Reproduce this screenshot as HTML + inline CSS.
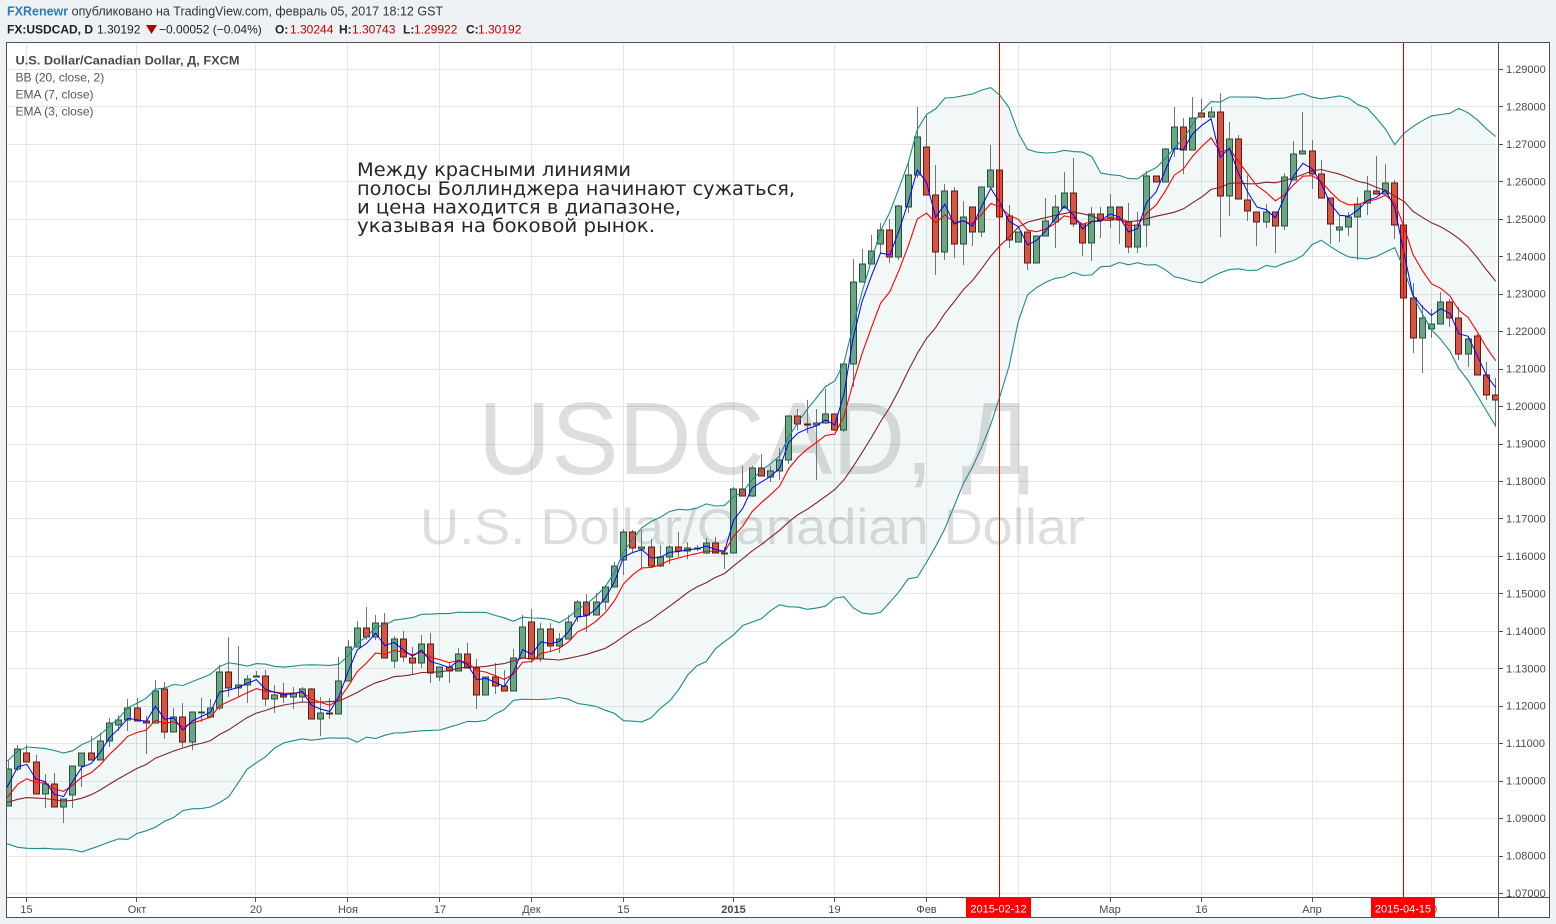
<!DOCTYPE html>
<html><head><meta charset="utf-8">
<style>
html,body{margin:0;padding:0;background:#eff2f5;width:1556px;height:924px;overflow:hidden;}
svg{display:block;}
text{font-family:"Liberation Sans",Arial,sans-serif;}
</style></head>
<body>
<svg id="s" width="1556" height="924" xmlns="http://www.w3.org/2000/svg">
<defs><clipPath id="cp"><rect x="7" y="43" width="1491" height="854"/></clipPath></defs>
<rect width="1556" height="924" fill="#eff2f5"/>
<!-- header -->
<text x="7" y="15.5" font-size="12.5"><tspan fill="#2b7bb9" font-weight="bold">FXRenewr</tspan><tspan fill="#333"> опубликовано на TradingView.com, февраль 05, 2017 18:12 GST</tspan></text>
<text y="33.5" font-size="12" fill="#222">
<tspan x="7" font-weight="bold">FX:USDCAD, D</tspan>
<tspan x="97">1.30192</tspan>
<tspan x="159">−0.00052 (−0.04%)</tspan>
<tspan x="275" font-weight="bold">O:</tspan><tspan x="290" fill="#c40000">1.30244</tspan>
<tspan x="339" font-weight="bold">H:</tspan><tspan x="352" fill="#c40000">1.30743</tspan>
<tspan x="403" font-weight="bold">L:</tspan><tspan x="414" fill="#c40000">1.29922</tspan>
<tspan x="466" font-weight="bold">C:</tspan><tspan x="478" fill="#c40000">1.30192</tspan>
</text>
<polygon points="146,25 157,25 151.5,34" fill="#b00000"/>

<!-- chart frame -->
<rect x="6.5" y="42.5" width="1543" height="875" fill="#fff" stroke="#505050"/>
<g id="grid" stroke="#e6e6e6" shape-rendering="crispEdges"></g>

<!-- watermark -->
<text x="478" y="474" font-size="103" fill="#000" fill-opacity="0.13" textLength="552" lengthAdjust="spacingAndGlyphs">USDCAD, Д</text>
<text x="420" y="544" font-size="50" fill="#000" fill-opacity="0.13" textLength="665" lengthAdjust="spacingAndGlyphs">U.S. Dollar/Canadian Dollar</text>

<g clip-path="url(#cp)">
<g id="band"></g>
<g id="cnd"></g>
<g id="ind" fill="none"></g>
</g>

<!-- legend -->
<text x="15.5" y="64.5" font-size="12" font-weight="bold" fill="#4a4a4a" textLength="224" lengthAdjust="spacingAndGlyphs">U.S. Dollar/Canadian Dollar, Д, FXCM</text>
<text x="15.5" y="81.5" font-size="12" fill="#555">BB (20, close, 2)</text>
<text x="15.5" y="98.5" font-size="12" fill="#555">EMA (7, close)</text>
<text x="15.5" y="115.5" font-size="12" fill="#555">EMA (3, close)</text>

<!-- annotation -->
<g font-size="19" fill="#262626">
<text x="357" y="176" textLength="274" lengthAdjust="spacingAndGlyphs" style="font-family:'DejaVu Sans','Liberation Sans',sans-serif">Между красными линиями</text>
<text x="357" y="195" textLength="438" lengthAdjust="spacingAndGlyphs" style="font-family:'DejaVu Sans','Liberation Sans',sans-serif">полосы Боллинджера начинают сужаться,</text>
<text x="357" y="213.5" textLength="324" lengthAdjust="spacingAndGlyphs" style="font-family:'DejaVu Sans','Liberation Sans',sans-serif">и цена находится в диапазоне,</text>
<text x="357" y="232" textLength="298" lengthAdjust="spacingAndGlyphs" style="font-family:'DejaVu Sans','Liberation Sans',sans-serif">указывая на боковой рынок.</text>
</g>

<!-- axis separators -->
<line x1="1498.5" y1="43" x2="1498.5" y2="917" stroke="#505050"/>
<line x1="7" y1="897.5" x2="1549" y2="897.5" stroke="#505050"/>
<g id="ticks" stroke="#505050" shape-rendering="crispEdges"></g>

<!-- price axis labels -->
<g font-size="11" fill="#4a4a4a">
<text x="1506" y="73">1.29000</text>
<text x="1506" y="110.5">1.28000</text>
<text x="1506" y="148">1.27000</text>
<text x="1506" y="185.4">1.26000</text>
<text x="1506" y="222.8">1.25000</text>
<text x="1506" y="260.3">1.24000</text>
<text x="1506" y="297.7">1.23000</text>
<text x="1506" y="335.2">1.22000</text>
<text x="1506" y="372.6">1.21000</text>
<text x="1506" y="410.1">1.20000</text>
<text x="1506" y="447.5">1.19000</text>
<text x="1506" y="485">1.18000</text>
<text x="1506" y="522.5">1.17000</text>
<text x="1506" y="559.9">1.16000</text>
<text x="1506" y="597.4">1.15000</text>
<text x="1506" y="634.8">1.14000</text>
<text x="1506" y="672.3">1.13000</text>
<text x="1506" y="709.7">1.12000</text>
<text x="1506" y="747.2">1.11000</text>
<text x="1506" y="784.6">1.10000</text>
<text x="1506" y="822.1">1.09000</text>
<text x="1506" y="859.5">1.08000</text>
<text x="1506" y="897">1.07000</text>
</g>

<!-- time axis labels -->
<g font-size="11" fill="#4a4a4a" text-anchor="middle">
<text x="26.5" y="913">15</text>
<text x="137" y="913">Окт</text>
<text x="256" y="913">20</text>
<text x="348" y="913">Ноя</text>
<text x="440" y="913">17</text>
<text x="531.5" y="913">Дек</text>
<text x="623.5" y="913">15</text>
<text x="733.5" y="913" font-weight="bold">2015</text>
<text x="834.5" y="913">19</text>
<text x="926.5" y="913">Фев</text>
<text x="1110" y="913">Мар</text>
<text x="1201.5" y="913">16</text>
<text x="1312" y="913">Апр</text>
<text x="1431" y="913">20</text>
</g>

<!-- red vertical markers -->
<line x1="999.5" y1="43" x2="999.5" y2="897" stroke="#e00000"/>
<line x1="1403.5" y1="43" x2="1403.5" y2="897" stroke="#e00000"/>
<rect x="966" y="898" width="65" height="19" fill="#ff0000"/>
<rect x="1371" y="898" width="64" height="19" fill="#ff0000"/>
<text x="998.5" y="912.5" font-size="11" fill="#fff" text-anchor="middle">2015-02-12</text>
<text x="1403" y="912.5" font-size="11" fill="#fff" text-anchor="middle">2015-04-15</text>
</svg>
<script>
(function(){
var NS='http://www.w3.org/2000/svg';
var pre=[805,795,785,777,780,775,780,795,830,835,840,830,810,825,800,817,803,790,801];
var D=[
[806,760,806,769],[769,745,771,749],[753,745,762,762],[762,755,794,794],[794,774,808,784],
[784,773,807,807],[807,799,823,799],[795,766,808,766],[766,753,787,753],[753,736,760,760],
[760,733,760,741],[741,718,747,723],[725,715,731,720],[720,699,731,708],[708,698,721,721],
[721,716,754,723],[723,680,723,691],[689,682,739,732],[732,708,732,717],[717,703,747,742],
[742,712,750,712],[713,698,722,712],[717,699,717,708],[708,665,710,672],[672,637,697,688],
[688,646,697,685],[685,675,703,679],[677,671,677,676],[676,670,706,699],[699,685,713,695],
[695,683,703,697],[697,687,709,693],[697,687,702,689],[689,688,719,719],[719,697,736,713],
[713,698,719,714],[714,657,714,681],[681,640,681,647],[647,621,647,628],[628,607,640,637],
[637,615,640,623],[623,613,658,658],[661,636,668,639],[639,631,662,657],[658,647,675,663],
[663,635,668,644],[644,633,683,673],[677,667,681,667],[667,662,683,671],[671,648,671,654],
[654,643,668,668],[668,659,709,695],[695,677,695,677],[677,663,694,686],[686,670,691,691],
[691,649,691,658],[658,615,658,627],[622,609,663,659],[659,623,662,629],[629,623,652,646],
[646,633,653,639],[639,615,639,622],[617,600,622,602],[602,594,632,615],[615,593,615,602],
[602,585,610,587],[587,562,587,566],[560,529,575,532],[532,530,552,548],[549,530,570,547],
[547,539,566,566],[566,545,567,557],[557,545,564,547],[547,532,557,551],[551,542,559,548],
[548.5,545,551,548],[553,538,554,543],[543,537,553,553],[553.5,547,569,553],[553,487,553,489],
[489,466,496,496],[496,466,497,468],[468,454,476,476],[477,466,482,471],[471,448,480,460],
[460,416,464,416],[416,409,430,424],[424,400,433,424.5],[425,409,480,423],[423,389,424,414],
[414,414,431,430],[430,364,432,364],[364,259,387,282],[282,249,282,264],[264,235,264,251],
[244,223,253,230],[230,219,263,257],[257,205,260,206],[207,162,213,175],[175,107,178,137],
[147,116,195,195],[195,165,275,252],[252,184,260,191],[191,187,258,244],[244,201,265,217],
[207,207,246,232],[232,187,237,187],[187,145,187,170],[170,170,217,217],[216,205,248,240],
[242,232,242,232],[232,232,270,263],[263,236,263,236],[236,198,236,221],[222,195,248,207],
[208,172,208,193],[193,158,227,224],[224,224,256,243],[243,207,261,214],[214,207,238,220],
[219,194,228,207],[207,207,244,220],[222,203,253,247],[247,212,253,225],[225,171,247,176],
[176,176,182,182],[182,148,182,149],[149,107,157,127],[127,118,174,150],[150,97,150,118],
[113,99,117,117],[117,107,117,112],[112,93,237,196],[196,122,216,139],[139,135,199,199],
[200,175,221,211],[212,212,246,222],[222,204,228,212],[212,212,253,226],[226,173,230,177],
[180,141,180,154],[154,112,154,151],[151,140,189,174],[174,160,198,198],[198,198,244,224],
[230,216,242,227],[227,212,236,217],[217,197,260,204],[203,176,215,191],[191,156,194,194],
[194,164,194,183],[183,180,239,225],[225,225,298,298],[298,283,353,338],[338,305,373,318],
[329,309,338,324],[324,292,324,302],[302,299,327,318],[318,307,360,354],[354,337,367,339],
[336,334,375,375],[375,362,400,395],[395,378,427,400]
];
function el(parent,tag,attrs){var e=document.createElementNS(NS,tag);for(var k in attrs)e.setAttribute(k,attrs[k]);parent.appendChild(e);return e;}

// grid
var g=document.getElementById('grid');
for(var k=0;k<=22;k++){var y=Math.round(69+k*37.4545)+0.5;el(g,'line',{x1:7,y1:y,x2:1498,y2:y});}
var vx=[26,136,255,347,439,531,623,733,834,926,1018,1110,1201,1312,1431];
vx.forEach(function(x){el(g,'line',{x1:x+0.5,y1:43,x2:x+0.5,y2:897});});
var t=document.getElementById('ticks');
vx.forEach(function(x){el(t,'line',{x1:x+0.5,y1:898,x2:x+0.5,y2:902});});
for(var k=0;k<=22;k++){var y=Math.round(69+k*37.4545)+0.5;el(t,'line',{x1:1499,y1:y,x2:1503,y2:y});}

// indicators
var cl=pre.concat(D.map(function(d){return d[3];}));
var P=pre.length;
var e3=[],e7=[],sm=[],up=[],lo=[];
var a3=cl[0],a7=cl[0];
for(var i=0;i<cl.length;i++){
  var c=cl[i];
  if(i>0){a3=a3+0.5*(c-a3);a7=a7+0.25*(c-a7);}
  e3.push(a3);e7.push(a7);
  var s=Math.max(0,i-19);var w=cl.slice(s,i+1);
  var m=0;w.forEach(function(v){m+=v;});m/=w.length;
  var vr=0;w.forEach(function(v){vr+=(v-m)*(v-m);});vr/=w.length;
  var sd=Math.sqrt(vr);
  sm.push(m);up.push(m-2*sd);lo.push(m+2*sd);
}
function X(j){return 8.5+9.18*(j-P);}
function pts(arr,from){var r=[];for(var j=from;j<arr.length;j++){r.push(X(j).toFixed(1)+','+arr[j].toFixed(1));}return r;}
var from=P-1;
var band=document.getElementById('band');
var pu=pts(up,from),pl=pts(lo,from).reverse();
el(band,'polygon',{points:pu.concat(pl).join(' '),fill:'#198787','fill-opacity':'0.055',stroke:'none'});
var ind=document.getElementById('ind');
el(ind,'polyline',{points:pts(up,from).join(' '),stroke:'#1f8a8a','stroke-width':'1.1'});
el(ind,'polyline',{points:pts(lo,from).join(' '),stroke:'#1f8a8a','stroke-width':'1.1'});
el(ind,'polyline',{points:pts(sm,from).join(' '),stroke:'#872323','stroke-width':'1.1'});
el(ind,'polyline',{points:pts(e7,from).join(' '),stroke:'#ff0000','stroke-width':'1.1'});
el(ind,'polyline',{points:pts(e3,from).join(' '),stroke:'#0000ff','stroke-width':'1'});

// candles
var cg=document.getElementById('cnd');
D.forEach(function(d,i){
  var o=d[0],hi=d[1],lw=d[2],c=d[3];
  var x=Math.round(8+9.18*i);
  var isUp=c<=o;
  el(cg,'line',{x1:x+0.5,y1:hi,x2:x+0.5,y2:lw,stroke:'#737375','stroke-width':1});
  var tp=Math.min(o,c),bt=Math.max(o,c);var hh=Math.max(bt-tp,1);
  el(cg,'rect',{x:x-2.5,y:tp,width:6,height:hh,fill:isUp?'#6ba583':'#d75442',stroke:isUp?'#225437':'#5b1a13','stroke-width':1});
});
})();
</script>
</body></html>
